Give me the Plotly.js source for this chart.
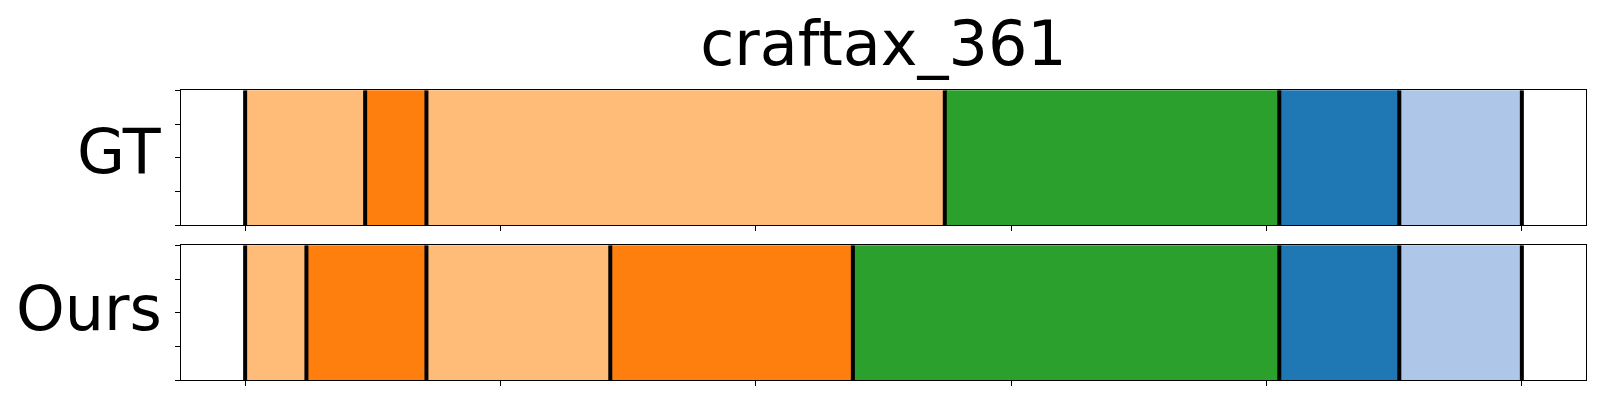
<!DOCTYPE html>
<html>
<head>
<meta charset="utf-8">
<script src="https://cdn.plot.ly/plotly-3.0.1.min.js"></script>
<style>html,body{margin:0;padding:0;background:#fff;}#chart{width:1600px;height:400px;}</style>
</head>
<body>
<div id="chart"></div>
<script>
// ---- data (frame boundaries and segment classes) ----
const chartTitle = "craftax_361";
const rowLabels = ["GT", "Ours"];

const gtStarts  = [0, 47, 71, 274, 405, 452];
const gtEnds    = [47, 71, 274, 405, 452, 500];
const gtClasses = ["light_orange", "orange", "light_orange", "green", "blue", "light_blue"];

const oursStarts  = [0, 24, 71, 143, 238, 405, 452];
const oursEnds    = [24, 71, 143, 238, 405, 452, 500];
const oursClasses = ["light_orange", "orange", "light_orange", "orange", "green", "blue", "light_blue"];

const xTickVals = [0, 100, 200, 300, 400, 500];
const yTickVals = [0, 0.25, 0.5, 0.75, 1];

// ---- styles ----
const classColors = {
  light_orange: "#ffbb78",
  orange: "#ff7f0e",
  green: "#2ca02c",
  blue: "#1f77b4",
  light_blue: "#aec7e8"
};

function segTrace(starts, ends, classes, xa, ya) {
  return {
    type: "bar", orientation: "h",
    base: starts,
    x: ends.map((e, i) => e - starts[i]),
    y: starts.map(() => 0.5),
    width: starts.map(() => 1),
    marker: { color: classes.map(c => classColors[c]), line: { width: 0 } },
    xaxis: xa, yaxis: ya, hoverinfo: "skip", showlegend: false
  };
}
function boundaryTrace(starts, ends, xa, ya) {
  const b = Array.from(new Set(starts.concat(ends))).sort((a, c) => a - c);
  const xs = [], ys = [];
  b.forEach(v => { xs.push(v, v, null); ys.push(0, 1, null); });
  return {
    type: "scatter", mode: "lines", x: xs, y: ys,
    line: { color: "#000", width: 4 },
    xaxis: xa, yaxis: ya, hoverinfo: "skip", showlegend: false, cliponaxis: true
  };
}

const data = [
  segTrace(gtStarts, gtEnds, gtClasses, "x", "y"),
  boundaryTrace(gtStarts, gtEnds, "x", "y"),
  segTrace(oursStarts, oursEnds, oursClasses, "x2", "y2"),
  boundaryTrace(oursStarts, oursEnds, "x2", "y2")
];

const W = 1600, H = 400;
const xDom = [181.3 / W, 1585.7 / W];
const axX = (anchor) => ({
  domain: xDom, range: [-25, 525], anchor: anchor,
  showgrid: false, zeroline: false,
  showline: true, linecolor: "#000", linewidth: 1, mirror: true,
  ticks: "outside", ticklen: 5, tickwidth: 1, tickcolor: "#000",
  tickmode: "array", tickvals: xTickVals, showticklabels: false,
  fixedrange: true
});
const axY = (anchor, dom) => ({
  domain: dom, range: [0, 1], anchor: anchor,
  showgrid: false, zeroline: false,
  showline: true, linecolor: "#000", linewidth: 1, mirror: true,
  ticks: "outside", ticklen: 5, tickwidth: 1, tickcolor: "#000",
  tickmode: "array", tickvals: yTickVals, showticklabels: false,
  fixedrange: true
});

const layout = {
  width: W, height: H,
  margin: { l: 0, r: 0, t: 0, b: 0, pad: 0 },
  paper_bgcolor: "#fff", plot_bgcolor: "#fff",
  font: { family: "DejaVu Sans", color: "#000" },
  barmode: "overlay",
  bargap: 0,
  title: {
    text: chartTitle,
    x: ((181.3 + 1585.7) / 2) / W, xanchor: "center", xref: "paper",
    y: 1 - 43 / H, yanchor: "middle", yref: "paper",
    font: { family: "DejaVu Sans", size: 62, color: "#000" }
  },
  xaxis: axX("y"),
  yaxis: axY("x", [1 - 225.3 / H, 1 - 90.3 / H]),
  xaxis2: axX("y2"),
  yaxis2: axY("x2", [1 - 380.3 / H, 1 - 245.3 / H]),
  annotations: [
    { text: rowLabels[0], xref: "paper", yref: "paper", x: 164 / W, y: 1 - 151.5 / H,
      xanchor: "right", yanchor: "middle", showarrow: false,
      font: { family: "DejaVu Sans", size: 62, color: "#000" } },
    { text: rowLabels[1], xref: "paper", yref: "paper", x: 164 / W, y: 1 - 308.5 / H,
      xanchor: "right", yanchor: "middle", showarrow: false,
      font: { family: "DejaVu Sans", size: 62, color: "#000" } }
  ]
};

Plotly.newPlot("chart", data, layout, { staticPlot: true, displayModeBar: false });
</script>
</body>
</html>
